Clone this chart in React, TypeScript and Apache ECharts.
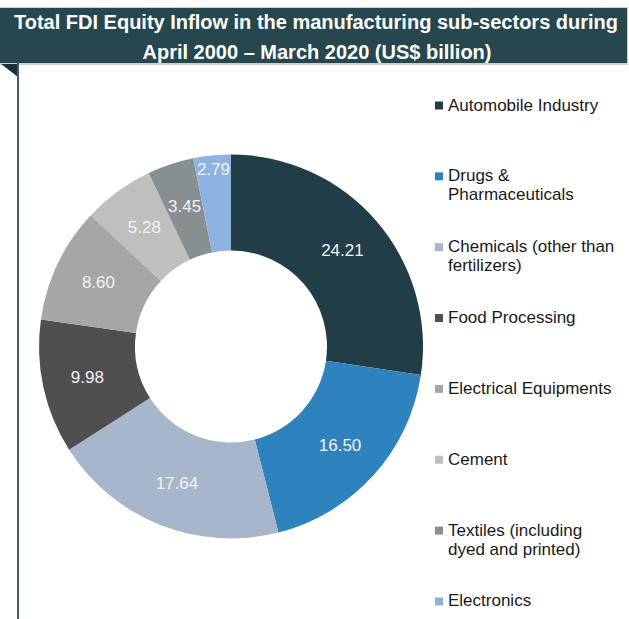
import React, { useEffect, useRef } from "react";
import * as echarts from "echarts";

const categories = [
  "Automobile Industry",
  "Drugs & Pharmaceuticals",
  "Chemicals (other than fertilizers)",
  "Food Processing",
  "Electrical Equipments",
  "Cement",
  "Textiles (including dyed and printed)",
  "Electronics",
];
const legendLabels = [
  "Automobile Industry",
  "Drugs &\nPharmaceuticals",
  "Chemicals (other than\nfertilizers)",
  "Food Processing",
  "Electrical Equipments",
  "Cement",
  "Textiles (including\ndyed and printed)",
  "Electronics",
];
const values = [24.21, 16.5, 17.64, 9.98, 8.6, 5.28, 3.45, 2.79];
const colors = [
  "#213d45",
  "#2e82bd",
  "#a7b6ca",
  "#4f4f4f",
  "#a6a6a6",
  "#bfbfbf",
  "#888f91",
  "#8db3e0",
];
const titleLines = [
  "Total FDI Equity Inflow in the manufacturing sub-sectors during",
  "April 2000 \u2013 March 2020 (US$ billion)",
];

const FONT = "'Liberation Sans', Arial, Helvetica, sans-serif";

export default function App() {
  const ref = useRef<HTMLDivElement>(null);
  useEffect(() => {
    if (!ref.current) return;
    const chart = echarts.init(ref.current, undefined, { renderer: "svg" });
    const legendGraphics: any[] = [];
    legendLabels.forEach((lab, i) => {
      const cy = 105 + 70.85 * i;
      legendGraphics.push({
        type: "rect",
        shape: { x: 435, y: cy - 3.5, width: 8, height: 8 },
        style: { fill: colors[i] },
        silent: true,
      });
      legendGraphics.push({
        type: "text",
        style: {
          x: 448,
          y: cy - 9.5,
          text: lab,
          fill: "#1a1a1a",
          fontSize: 17,
          fontFamily: FONT,
          lineHeight: 19,
          align: "left",
          verticalAlign: "top",
        },
        silent: true,
      });
    });
    const option: any = {
      animation: false,
      backgroundColor: "#ffffff",
      graphic: [
        {
          type: "rect",
          shape: { x: 0, y: 7, width: 628, height: 58 },
          style: { fill: "#c9d0d2" },
          silent: true,
        },
        {
          type: "rect",
          shape: { x: 0, y: 8, width: 627, height: 55 },
          style: { fill: "#27474f" },
          silent: true,
        },
        {
          type: "polygon",
          shape: { points: [[1, 64], [18, 64], [18, 77]] },
          style: { fill: "#1b2f35" },
          silent: true,
        },
        {
          type: "line",
          shape: { x1: 18, y1: 63, x2: 18, y2: 619 },
          style: { stroke: "#3b5f69", lineWidth: 2 },
          silent: true,
        },
        {
          type: "text",
          style: {
            x: 316,
            y: 22,
            text: titleLines[0],
            fill: "#ffffff",
            fontSize: 20,
            fontWeight: "bold",
            fontFamily: FONT,
            align: "center",
            verticalAlign: "middle",
          },
          silent: true,
        },
        {
          type: "text",
          style: {
            x: 317,
            y: 52,
            text: titleLines[1],
            fill: "#ffffff",
            fontSize: 20,
            fontWeight: "bold",
            fontFamily: FONT,
            align: "center",
            verticalAlign: "middle",
          },
          silent: true,
        },
        ...legendGraphics,
      ],
      series: [
        {
          type: "pie",
          center: [231, 346.5],
          radius: [96, 192],
          startAngle: 90,
          clockwise: true,
          avoidLabelOverlap: false,
          data: categories.map((c, i) => ({
            name: c,
            value: values[i],
            itemStyle: { color: colors[i] },
          })),
          label: {
            show: true,
            position: "inside",
            formatter: (p: any) => Number(p.value).toFixed(2),
            color: "#f2f2f2",
            fontSize: 17,
            fontFamily: FONT,
          },
          labelLine: { show: false },
          labelLayout: (p: any) => (p.dataIndex === 7 ? { dx: -3, dy: -31 } : {}),
          emphasis: { disabled: true },
          itemStyle: { borderWidth: 0 },
        },
      ],
    };
    chart.setOption(option);
    return () => chart.dispose();
  }, []);
  return (
    <div
      ref={ref}
      style={{ position: "fixed", left: 0, top: 0, width: 629, height: 619 }}
    />
  );
}
